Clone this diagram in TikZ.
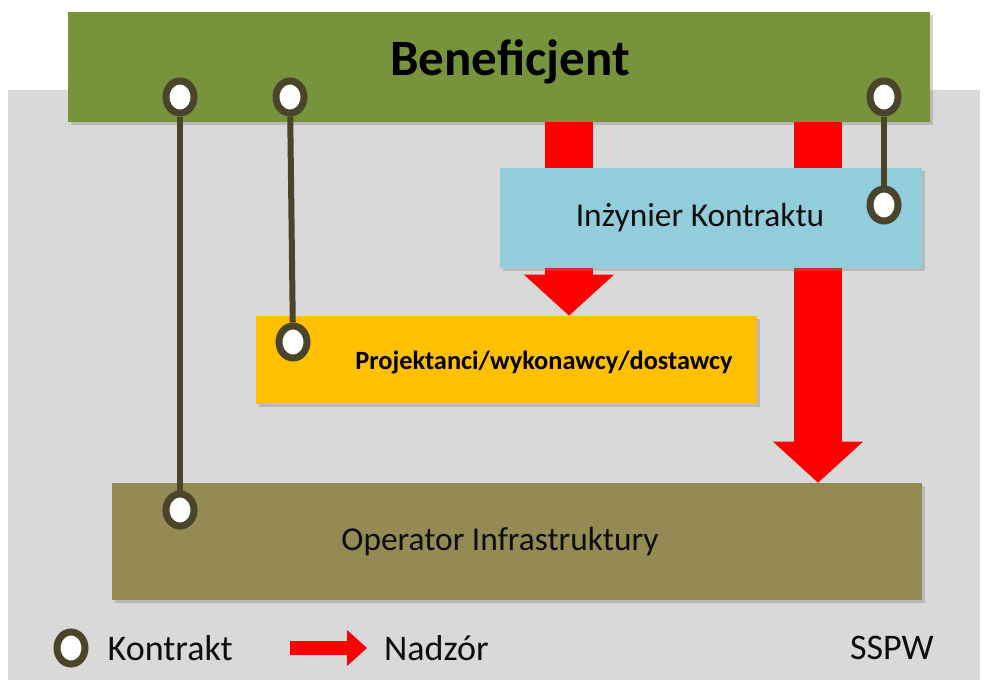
\documentclass[tikz,border=0pt]{standalone}
\usepackage{fontspec}
\setmainfont{Carlito}
\usetikzlibrary{arrows.meta, positioning, shapes.geometric, shadows}
\definecolor{panelgray}{HTML}{D9D9D9}
\definecolor{benegreen}{HTML}{77933C}
\definecolor{engblue}{HTML}{92CDDC}
\definecolor{projorange}{HTML}{FFC000}
\definecolor{operolive}{HTML}{948A54}
\definecolor{ringdark}{HTML}{4A452A}
\definecolor{nadzred}{HTML}{FF0000}

\begin{document}
\begin{tikzpicture}[
    x=0.02cm, y=-0.02cm,
    box/.style={inner sep=0pt,
                drop shadow={shadow xshift=0.06cm, shadow yshift=-0.06cm, opacity=0.35}},
    lbl/.style={font=\fontsize{19}{22}\selectfont, text=black!95},
    leglbl/.style={font=\fontsize{20.5}{24}\selectfont, text=black!95},
    kontr/.style={ellipse, draw=ringdark, line width=0.14cm, fill=white, inner sep=0pt,
                  minimum width=0.56cm, minimum height=0.64cm},
    kline/.style={ringdark, line width=0.12cm},
    nadzor/.style={nadzred, line width=0.95cm,
                   -{Triangle[width=1.8cm, length=0.82cm, line width=0pt]}},
]
\useasboundingbox (0,0) rectangle (983,684);
\fill[panelgray] (8,90) rectangle (980,680);

% boxes
\node[box, fill=benegreen, minimum width=17.24cm, minimum height=2.2cm] (ben) at (499,67) {};
\node[font=\bfseries\fontsize{29}{34}\selectfont] (benlbl) at ([xshift=0.22cm, yshift=0.1cm]ben.center) {Beneficjent};
\node[box, fill=projorange, minimum width=10.02cm, minimum height=1.76cm] (proj) at (506.5,360) {};
\node[font=\bfseries\fontsize{15}{18}\selectfont] (projlbl) at ([xshift=0.75cm, yshift=-0.04cm]proj.center) {Projektanci/wykonawcy/dostawcy};
\node[box, fill=operolive, minimum width=16.2cm, minimum height=2.34cm] (op) at (517,541.5) {};
\node[lbl] (oplbl) at ([xshift=-0.34cm]op.center) {Operator Infrastruktury};

% nadzor
\coordinate (nx1) at (569,0);
\coordinate (nx2) at (818,0);
\draw[nadzor] (ben.south -| nx1) -- (proj.north -| nx1);
\draw[nadzor] (ben.south -| nx2) -- (op.north -| nx2);

\node[box, fill=engblue, minimum width=8.44cm, minimum height=2cm] (ing) at (711,218) {};
\node[lbl] (inglbl) at ([xshift=-0.22cm]ing.center) {Inżynier Kontraktu};

% kontrakty
\node[kontr] (k1) at (180,97) {};
\node[kontr] (k2) at (290,97) {};
\node[kontr] (k3) at (884,97) {};
\node[kontr] (k4) at (180,510) {};
\node[kontr] (k5) at (293,342) {};
\node[kontr] (k6) at (884,205) {};
\draw[kline] (k1) -- (k4);
\draw[kline] (k2) -- (k5);
\draw[kline] (k3) -- (k6);

% legenda
\node[kontr] (legk) at (71,648) {};
\node[leglbl, right=0.26cm of legk] (legktxt) {Kontrakt};
\coordinate (legA) at (290,648);
\coordinate (legB) at (367,648);
\draw[nadzor, line width=0.28cm, -{Triangle[width=0.72cm, length=0.4cm, line width=0pt]}] (legA) -- (legB);
\node[leglbl, right=0.22cm of legB] (legntxt) {Nadzór};
\node[leglbl, anchor=east] (sspw) at (940,648) {SSPW};
\end{tikzpicture}
\end{document}
